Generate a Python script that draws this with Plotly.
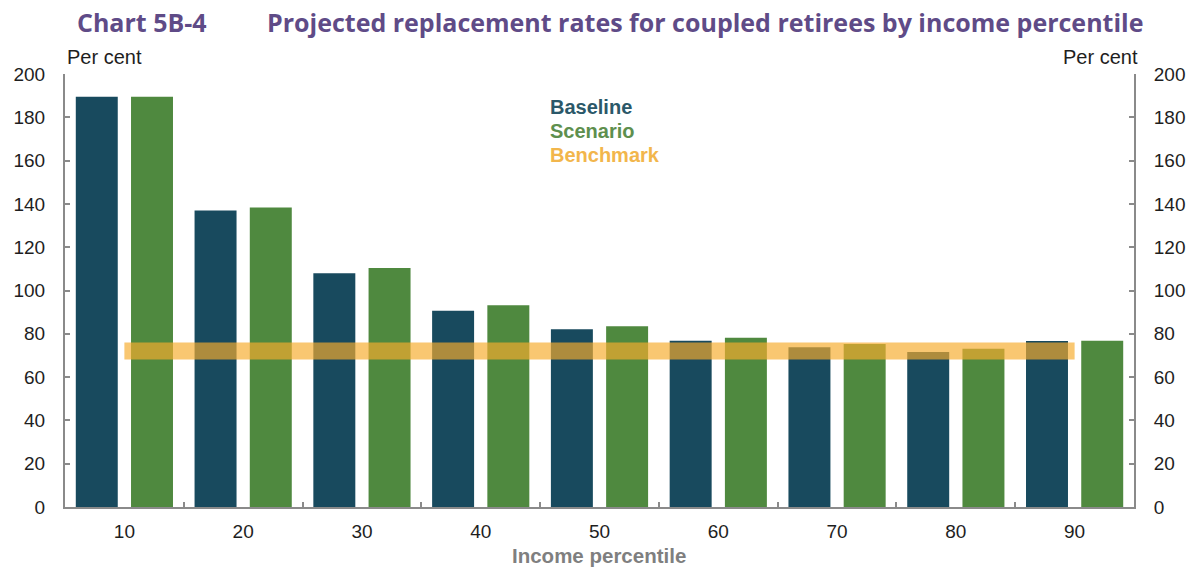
import plotly.graph_objects as go

# Income percentiles (x categories)
percentiles = ["10", "20", "30", "40", "50", "60", "70", "80", "90"]

# Projected replacement rates, per cent
baseline = [189.5, 137.0, 108.0, 90.7, 82.1, 76.8, 73.8, 71.6, 76.7]
scenario = [189.5, 138.3, 110.4, 93.2, 83.5, 78.2, 75.3, 73.1, 76.8]
benchmark = [72, 72, 72, 72, 72, 72, 72, 72, 72]

y_ticks = [0, 20, 40, 60, 80, 100, 120, 140, 160, 180, 200]

BLUE = "#184A5E"
GREEN = "#4F893F"
BAND = "rgba(246,172,45,0.68)"
PURPLE = "#5F4B87"
AXIS_GREY = "#8a8a8a"
TEXT = "#1e1e1e"
FONT = "Liberation Sans, Arial, sans-serif"

fig = go.Figure()

fig.add_trace(go.Bar(x=percentiles, y=baseline, name="Baseline",
                     marker=dict(color=BLUE, line=dict(width=0))))
fig.add_trace(go.Bar(x=percentiles, y=scenario, name="Scenario",
                     marker=dict(color=GREEN, line=dict(width=0))))
# Benchmark band drawn on the overlay axis so it sits on top of the bars
fig.add_trace(go.Scatter(x=percentiles, y=benchmark, name="Benchmark",
                         mode="lines", yaxis="y2",
                         line=dict(color=BAND, width=17)))

axis_font = dict(family=FONT, size=19, color=TEXT)

fig.update_layout(
    width=1199, height=570,
    margin=dict(l=65, r=65, t=74, b=63),
    paper_bgcolor="white", plot_bgcolor="white",
    showlegend=False,
    barmode="group", bargap=0.07, bargroupgap=0.24,
    xaxis=dict(
        type="category", tickson="boundaries", ticks="inside", ticklen=5,
        tickwidth=2, tickcolor=AXIS_GREY,
        showline=True, linecolor=AXIS_GREY, linewidth=2,
        showgrid=False, zeroline=False, tickfont=axis_font,
        ticklabelstandoff=6,
    ),
    yaxis=dict(
        range=[0, 200], tickvals=y_ticks, ticks="inside", ticklen=5,
        tickwidth=2, tickcolor=AXIS_GREY,
        showline=True, linecolor=AXIS_GREY, linewidth=2,
        showgrid=False, zeroline=False, tickfont=axis_font,
        ticklabelstandoff=14,
    ),
    yaxis2=dict(
        range=[0, 200], tickvals=y_ticks, overlaying="y", side="right",
        ticks="inside", ticklen=5, tickwidth=2, tickcolor=AXIS_GREY,
        showline=True, linecolor=AXIS_GREY, linewidth=2,
        showgrid=False, zeroline=False, tickfont=axis_font,
        ticklabelstandoff=14,
    ),
)

title_font = dict(family="Open Sans, sans-serif", size=25, color=PURPLE)
legend_font = dict(family=FONT, size=20)

annotations = [
    dict(text="<b>Chart 5B-4</b>", x=0.0094, y=1.12, xanchor="left",
         yanchor="middle", font=title_font),
    dict(text="<b>Projected replacement rates for coupled retirees by income percentile</b>",
         x=0.187, y=1.12, xanchor="left", yanchor="middle", font=title_font),
    dict(text="Per cent", x=0.0, y=1.039, xanchor="left", yanchor="middle",
         font=dict(family=FONT, size=20, color=TEXT)),
    dict(text="Per cent", x=1.0056, y=1.039, xanchor="right", yanchor="middle",
         font=dict(family=FONT, size=20, color=TEXT)),
    dict(text="<b>Baseline</b>", x=0.452, y=0.924, xanchor="left", yanchor="middle",
         font=dict(legend_font, color="#2B5869")),
    dict(text="<b>Scenario</b>", x=0.452, y=0.868, xanchor="left", yanchor="middle",
         font=dict(legend_font, color="#5E8F4E")),
    dict(text="<b>Benchmark</b>", x=0.452, y=0.813, xanchor="left", yanchor="middle",
         font=dict(legend_font, color="#F2B64C")),
    dict(text="<b>Income percentile</b>", x=0.4995, y=-0.113, xanchor="center",
         yanchor="middle", font=dict(family=FONT, size=20.5, color="#7f7f7f")),
]
for a in annotations:
    a.update(xref="paper", yref="paper", showarrow=False)
fig.update_layout(annotations=annotations)

fig.write_html("out.html")
